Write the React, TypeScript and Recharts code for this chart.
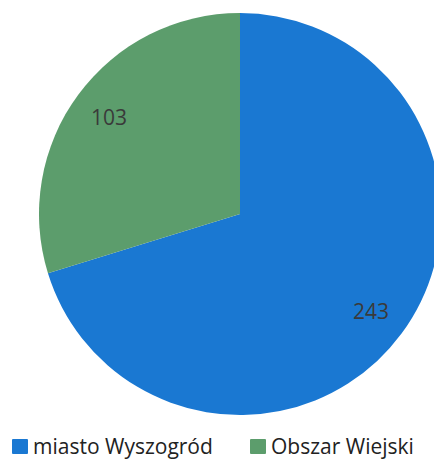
import React from "react";
import { PieChart, Pie, Cell, Legend } from "recharts";

const categories = ["miasto Wyszogród", "Obszar Wiejski"];
const values = [243, 103];
const colors = ["#1a78d2", "#5c9d6c"];

const data = categories.map((name, i) => ({ name, value: values[i] }));

const RADIAN = Math.PI / 180;
const renderLabel = (props: any) => {
  const { cx, cy, midAngle, outerRadius, value } = props;
  const r = outerRadius * 0.81;
  const x = cx + r * Math.cos(-midAngle * RADIAN);
  const y = cy + r * Math.sin(-midAngle * RADIAN);
  return (
    <text x={x} y={y} fill="#3a3a3a" fontSize={21} textAnchor="middle" dominantBaseline="central" fontFamily="Open Sans">
      {value}
    </text>
  );
};

const renderLegend = () => (
  <div style={{ position: "relative", height: 30, fontFamily: "Open Sans", fontSize: 21, color: "#222" }}>
    {data.map((d, i) => (
      <div key={d.name} style={{ position: "absolute", left: i === 0 ? 12 : 250, top: 0, display: "flex", alignItems: "center", whiteSpace: "nowrap" }}>
        <span style={{ display: "inline-block", width: 16, height: 15, background: colors[i], marginRight: 5, borderRadius: 1 }} />
        <span>{d.name}</span>
      </div>
    ))}
  </div>
);

export default function App() {
  return (
    <div style={{ position: "absolute", left: 0, top: 0, background: "#fff" }}>
      <PieChart width={434} height={461} margin={{ top: 0, right: 0, bottom: 0, left: 0 }}>
        <Pie
          data={data}
          dataKey="value"
          nameKey="name"
          cx={240}
          cy={214}
          outerRadius={201}
          startAngle={90}
          endAngle={-270}
          stroke="none"
          label={renderLabel}
          labelLine={false}
          isAnimationActive={false}
        >
          {data.map((d, i) => (
            <Cell key={d.name} fill={colors[i]} />
          ))}
        </Pie>
        <Legend content={renderLegend} verticalAlign="bottom" wrapperStyle={{ top: 432, left: 0, width: 434, bottom: "auto" }} />
      </PieChart>
    </div>
  );
}
